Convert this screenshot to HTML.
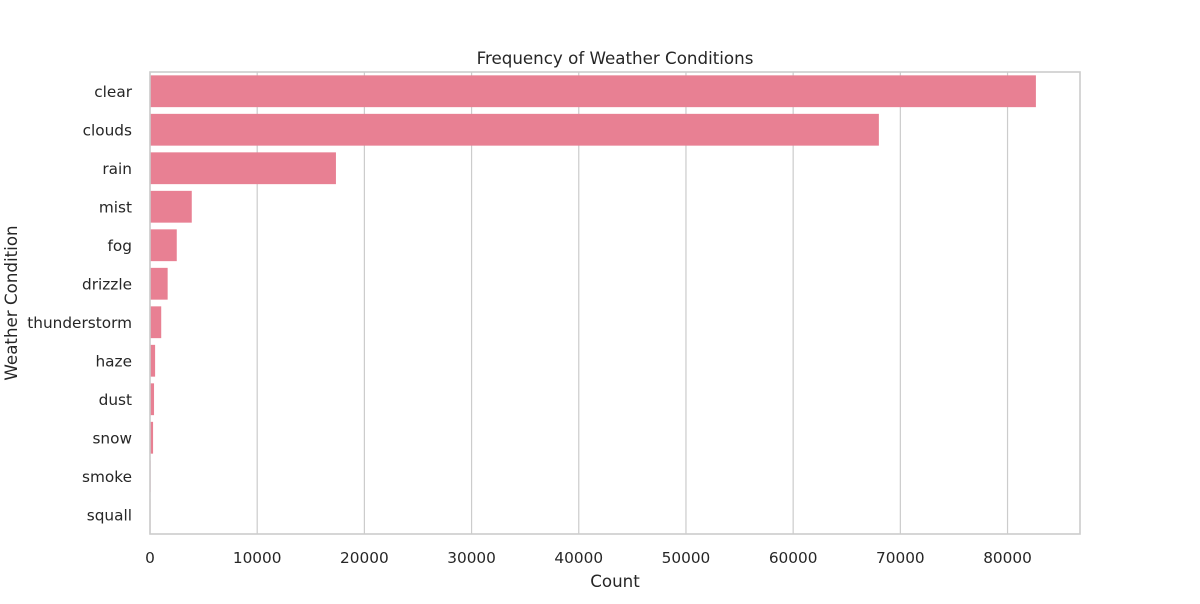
<!DOCTYPE html>
<html><head><meta charset="utf-8"><style>
body{margin:0;background:#fff;font-family:"DejaVu Sans","Liberation Sans",sans-serif}
</style></head><body>
<svg id="chart" width="1200" height="600" xmlns="http://www.w3.org/2000/svg" font-family="DejaVu Sans, Liberation Sans, sans-serif"></svg>
<script>
const categories=["clear","clouds","rain","mist","fog","drizzle","thunderstorm","haze","dust","snow","smoke","squall"];
const counts=[82600,67950,17300,3850,2450,1600,1000,430,330,240,15,5];
const xTicks=[0,10000,20000,30000,40000,50000,60000,70000,80000];
const L=150,R=1080,T=72,B=534,XMAX=86760;
const svg=document.getElementById('chart');
const NS='http://www.w3.org/2000/svg';
const x=v=>L+(v/XMAX)*(R-L);
const band=(B-T)/categories.length;
const y=i=>T+i*band;
function mk(t,a){const e=document.createElementNS(NS,t);for(const k in a)e.setAttribute(k,a[k]);svg.appendChild(e);return e;}
xTicks.forEach(v=>{
  const g=mk('line',{x1:x(v),x2:x(v),y1:T,y2:B,stroke:'#cccccc','stroke-width':1.2});
  
  
  const t=mk('text',{x:x(v),y:B+29,'text-anchor':'middle','font-size':15.3,fill:'#262626'});
  t.textContent=v;
  
  
});
categories.forEach((c,i)=>{
  const r=mk('rect',{x:L,y:y(i)+band*0.1,width:Math.max(0,x(counts[i])-L),height:band*0.8,fill:'#e88093',stroke:'#e88093'});
  
  
  const t=mk('text',{x:L-18,y:y(i)+band/2+5.5,'text-anchor':'end','font-size':15.3,fill:'#262626'});
  t.textContent=c;
  
  
});
const f=mk('rect',{x:L,y:T,width:R-L,height:B-T,fill:'none',stroke:'#cccccc','stroke-width':1.6});


const tt=mk('text',{x:(L+R)/2,y:64,'text-anchor':'middle','font-size':16.7,fill:'#262626'});
tt.textContent='Frequency of Weather Conditions';


const xt=mk('text',{x:(L+R)/2,y:587,'text-anchor':'middle','font-size':16.7,fill:'#262626'});
xt.textContent='Count';


const yt=mk('text',{x:17,y:(T+B)/2,'text-anchor':'middle','font-size':16.7,fill:'#262626',transform:'rotate(-90 17 '+((T+B)/2)+')'});
yt.textContent='Weather Condition';


</script>
</body></html>
